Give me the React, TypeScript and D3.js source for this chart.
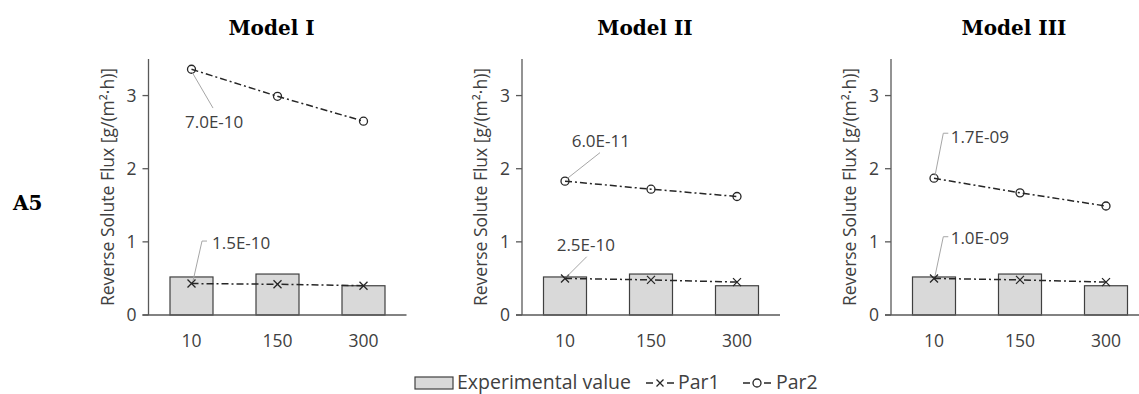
import React from 'react';
import * as d3 from 'd3';

// data
const categories = ['10', '150', '300'];
const panelTitles = ['Model I', 'Model II', 'Model III'];
const experimental = [0.52, 0.56, 0.4];
const par1Values = [
  [0.43, 0.42, 0.4],
  [0.5, 0.48, 0.45],
  [0.5, 0.48, 0.45],
];
const par2Values = [
  [3.36, 2.99, 2.65],
  [1.83, 1.72, 1.62],
  [1.87, 1.67, 1.49],
];
const par1Labels = ['1.5E-10', '2.5E-10', '1.0E-09'];
const par2Labels = ['7.0E-10', '6.0E-11', '1.7E-09'];
const yTicks = [0, 1, 2, 3];

const W = 1139;
const H = 394;
const panelLeft = [148.5, 522, 891];
const plotW = 258;
const top = 59;
const bottom = 315;
const sans = '"Open Sans", sans-serif';
const serif = '"DejaVu Serif", serif';
const lineColor = '#262626';
const axisColor = '#595959';
const textColor = '#404040';

// label placement relative to the first point of each series: leader path points and text anchor
type Note = { path: [number, number][]; dx: number; dy: number };
const par1Notes: Note[] = [
  { path: [[1.5, -2.5], [10.5, -42.5], [15.5, -42.5]], dx: 20.5, dy: -34.5 },
  { path: [[1, -1], [21.7, -21.7]], dx: -8.3, dy: -27.7 },
  { path: [[1, -2.3], [9.3, -41.7], [14.3, -41.7]], dx: 16.7, dy: -34 },
];
const par2Notes: Note[] = [
  { path: [[0.5, 2.8], [21.5, 38.8]], dx: -6.5, dy: 58.8 },
  { path: [[1.7, -2.2], [35, -28.5]], dx: 6.7, dy: -34.5 },
  { path: [[1, -2.5], [9.3, -45], [14.3, -45]], dx: 16.7, dy: -35.5 },
];

const y = d3.scaleLinear().domain([0, 3.5]).range([bottom, top]);

const Cross = ({ cx, cy, s = 4 }: { cx: number; cy: number; s?: number }) => (
  <path d={`M${cx - s},${cy - s}L${cx + s},${cy + s}M${cx - s},${cy + s}L${cx + s},${cy - s}`}
    stroke={lineColor} strokeWidth={1.3} fill="none" />
);
const Ring = ({ cx, cy }: { cx: number; cy: number }) => (
  <circle cx={cx} cy={cy} r={4} stroke={lineColor} strokeWidth={1.3} fill="none" />
);

const Panel = ({ i }: { i: number }) => {
  const x0 = panelLeft[i];
  const x = d3.scaleBand<string>().domain(categories).range([x0, x0 + plotW])
    .paddingInner(0.5).paddingOuter(0.25);
  const cx = (c: string) => (x(c) as number) + x.bandwidth() / 2;
  const line = d3.line<number>().x((_, j) => cx(categories[j])).y(d => y(d));
  const leader = (n: Note, px: number, py: number) =>
    d3.line()(n.path.map(([a, b]) => [px + a, py + b] as [number, number])) as string;
  const p1x = cx(categories[0]);
  const p1y = y(par1Values[i][0]);
  const p2y = y(par2Values[i][0]);
  const cmid = (x0 + x0 + plotW) / 2;
  return (
    <g>
      <text x={cmid - 6} y={35} textAnchor="middle" fontFamily={serif} fontWeight="bold" fontSize={20} fill="#000">
        {panelTitles[i]}
      </text>
      {experimental.map((v, j) => (
        <rect key={j} x={x(categories[j])} y={y(v)} width={x.bandwidth()} height={y(0) - y(v)}
          fill="#d9d9d9" stroke="#404040" strokeWidth={1.2} />
      ))}
      {/* axes */}
      <line x1={x0} x2={x0} y1={top} y2={bottom} stroke={axisColor} strokeWidth={1.3} />
      <line x1={x0 - 6} x2={x0 + plotW} y1={bottom} y2={bottom} stroke={axisColor} strokeWidth={1.3} />
      {yTicks.map(t => (
        <g key={t}>
          <line x1={x0 - 6} x2={x0} y1={y(t)} y2={y(t)} stroke={axisColor} strokeWidth={1.3} />
          <text x={x0 - 12} y={y(t)} dy="0.36em" textAnchor="end" fontFamily={sans} fontSize={17.5} fill={textColor}>{t}</text>
        </g>
      ))}
      {categories.map(c => (
        <text key={c} x={cx(c)} y={347} textAnchor="middle" fontFamily={sans} fontSize={17.5} fill={textColor}>{c}</text>
      ))}
      <text transform={`translate(${x0 - 41},${y(1.75)}) rotate(-90)`} textAnchor="middle" dy="0.36em"
        fontFamily={sans} fontSize={17.5} fill={textColor}>
        Reverse Solute Flux [g/(m²·h)]
      </text>
      {/* series */}
      <path d={line(par1Values[i]) as string} fill="none" stroke={lineColor} strokeWidth={1.5} strokeDasharray="7 3 2 3" />
      <path d={line(par2Values[i]) as string} fill="none" stroke={lineColor} strokeWidth={1.5} strokeDasharray="7 3 2 3" />
      {par1Values[i].map((v, j) => <Cross key={j} cx={cx(categories[j])} cy={y(v)} />)}
      {par2Values[i].map((v, j) => <Ring key={j} cx={cx(categories[j])} cy={y(v)} />)}
      {/* data labels */}
      <path d={leader(par1Notes[i], p1x, p1y)} fill="none" stroke="#a6a6a6" strokeWidth={1} />
      <text x={p1x + par1Notes[i].dx} y={p1y + par1Notes[i].dy} fontFamily={sans} fontSize={17} fill={textColor}>{par1Labels[i]}</text>
      <path d={leader(par2Notes[i], p1x, p2y)} fill="none" stroke="#a6a6a6" strokeWidth={1} />
      <text x={p1x + par2Notes[i].dx} y={p2y + par2Notes[i].dy} fontFamily={sans} fontSize={17} fill={textColor}>{par2Labels[i]}</text>
    </g>
  );
};

const Legend = () => (
  <g fontFamily={sans} fontSize={19.5} fill={textColor}>
    <rect x={415} y={377} width={38} height={12} fill="#d9d9d9" stroke="#404040" strokeWidth={1.2} />
    <text x={457} y={388.5}>Experimental value</text>
    <line x1={646} x2={674} y1={383} y2={383} stroke={lineColor} strokeWidth={1.5} strokeDasharray="7 14 7" />
    <Cross cx={660} cy={383} s={3.5} />
    <text x={678} y={388.5}>Par1</text>
    <line x1={743} x2={771} y1={383} y2={383} stroke={lineColor} strokeWidth={1.5} strokeDasharray="7 14 7" />
    <Ring cx={757} cy={383} />
    <text x={776} y={388.5}>Par2</text>
  </g>
);

export default function App() {
  return (
    <svg width={W} height={H} style={{ position: 'absolute', left: 0, top: 0, background: '#fff' }}>
      <text x={13} y={210} fontFamily={serif} fontWeight="bold" fontSize={20} fill="#000">A5</text>
      {panelTitles.map((_, i) => <Panel key={i} i={i} />)}
      <Legend />
    </svg>
  );
}
